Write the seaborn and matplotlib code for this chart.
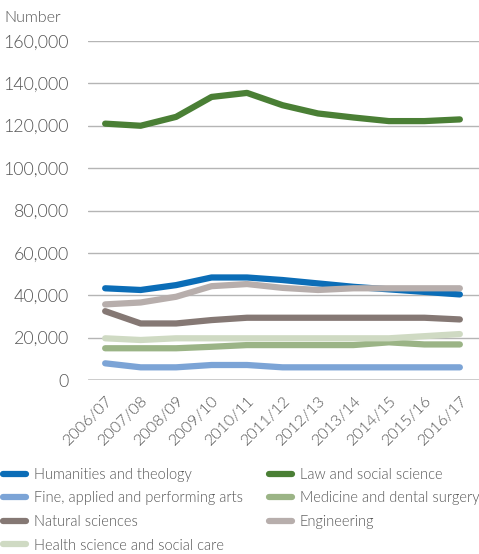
import matplotlib
matplotlib.use("Agg")
import matplotlib.pyplot as plt
import seaborn as sns
import pandas as pd
from matplotlib.lines import Line2D

years = ["2006/07", "2007/08", "2008/09", "2009/10", "2010/11", "2011/12",
         "2012/13", "2013/14", "2014/15", "2015/16", "2016/17"]

humanities = [43300, 42500, 44800, 48400, 48400, 47200, 45600, 44000, 42800, 41600, 40400]
law = [121000, 120000, 124200, 133600, 135500, 129700, 125800, 123900, 122200, 122200, 123000]
fine_arts = [7900, 6000, 6000, 7100, 7100, 6000, 6000, 6000, 6000, 6000, 6000]
medicine = [15000, 15000, 15000, 15700, 16500, 16500, 16500, 16500, 17800, 16800, 16800]
natural = [32500, 26700, 26700, 28300, 29400, 29400, 29400, 29400, 29400, 29400, 28600]
engineering = [35700, 36600, 39300, 44300, 45300, 43500, 42500, 43300, 43300, 43300, 43300]
health = [19700, 18900, 19700, 19700, 19700, 19700, 19700, 19700, 19700, 20700, 21700]

series = {
    "Humanities and theology": humanities,
    "Law and social science": law,
    "Fine, applied and performing arts": fine_arts,
    "Medicine and dental surgery": medicine,
    "Natural sciences": natural,
    "Engineering": engineering,
    "Health science and social care": health,
}
colors = {
    "Humanities and theology": "#0b6db7",
    "Law and social science": "#4a7f35",
    "Fine, applied and performing arts": "#7ca4d6",
    "Medicine and dental surgery": "#9bb486",
    "Natural sciences": "#857874",
    "Engineering": "#b7aeac",
    "Health science and social care": "#cfdac3",
}

rows = []
for name, vals in series.items():
    for i, (yr, v) in enumerate(zip(years, vals)):
        rows.append({"idx": i, "year": yr, "field": name, "value": v})
df = pd.DataFrame(rows)

sns.set_theme(style="white")
plt.rcParams["font.family"] = ["Lato", "DejaVu Sans"]
plt.rcParams["font.weight"] = 300
text_color = "#555555"

fig = plt.figure(figsize=(4.79, 5.54), dpi=100)
ax = fig.add_axes([0.184, 0.314, 0.816, 0.612])

for y in range(20000, 160001, 20000):
    ax.axhline(y, color="#b5b5b5", lw=1.0, zorder=0)
ax.axhline(0, color="#c8c8c8", lw=2.0, zorder=0)

sns.lineplot(data=df, x="idx", y="value", hue="field", palette=colors,
             hue_order=list(series.keys()), lw=4.5, legend=False, ax=ax,
             solid_capstyle="round", solid_joinstyle="round")

ax.set_xlim(-0.48, 10.54)
ax.set_ylim(0, 160000)
ax.set_yticks(range(0, 160001, 20000))
ax.set_yticklabels([f"{v:,}" for v in range(0, 160001, 20000)],
                   fontsize=12.8, color=text_color)
ax.set_xticks(range(len(years)))
ax.set_xticklabels(years, rotation=45, ha="right", rotation_mode="anchor",
                   fontsize=11.5, color=text_color)
ax.tick_params(axis="y", length=0, pad=14)
ax.tick_params(axis="x", length=0, pad=10)
ax.set_xlabel("")
ax.set_ylabel("")
for s in ax.spines.values():
    s.set_visible(False)

fig.text(0.010, 0.968, "Number", fontsize=11.5, color=text_color, va="center")

# legend fills column by column; order entries so rows read left-to-right
names = list(series.keys())
order = names[0::2] + names[1::2]
handles = [Line2D([0], [0], color=colors[n], lw=4.5, solid_capstyle="round")
           for n in order]
leg = fig.legend(handles, order, loc="lower left",
                 bbox_to_anchor=(-0.005, -0.008), ncol=2, frameon=False,
                 fontsize=10.5, handlelength=1.55, handletextpad=0.55,
                 columnspacing=1.8, labelspacing=0.66, borderaxespad=0.0)
for t in leg.get_texts():
    t.set_color(text_color)

fig.savefig("out.png", dpi=100)
